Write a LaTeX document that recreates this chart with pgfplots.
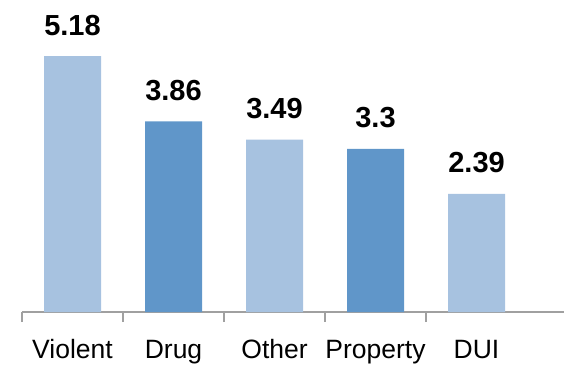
\documentclass[border=0pt]{standalone}
\usepackage{pgfplots}
\pgfplotsset{compat=1.18}
\usepackage{fontspec}
\setmainfont{Liberation Sans}
\definecolor{lightbar}{RGB}{167,194,224}
\definecolor{darkbar}{RGB}{96,150,201}
\definecolor{axisgray}{RGB}{160,160,160}
\begin{document}
\begin{tikzpicture}[x=1pt,y=1pt]
\useasboundingbox (0,0) rectangle (564,364);
\clip (0,0) rectangle (564,364);
\begin{axis}[
  at={(22pt,52pt)}, anchor=south west,
  scale only axis,
  width=542pt, height=312pt,
  xmin=-0.5, xmax=4.866,
  ymin=0, ymax=6.316,
  axis x line=bottom,
  axis y line=none,
  axis line style={axisgray, line width=1.6pt, -},
  xtick={0,1,2,3,4},
  xticklabels={Violent,Drug,Other,Property,DUI},
  major tick length=0pt,
  minor xtick={-0.5,0.5,1.5,2.5,3.5},
  minor tick length=10pt,
  tick align=outside,
  minor tick style={axisgray, line width=1.6pt},
  xticklabel style={font=\fontsize{26.5}{30}\selectfont, anchor=base, yshift=-46pt},
  ybar, bar width=57pt,
  point meta=explicit symbolic,
  nodes near coords,
  every node near coord/.append style={font=\fontsize{29}{32}\selectfont\bfseries, anchor=base, yshift=21pt, inner sep=0pt},
  clip=false,
]
\addplot[draw=none, fill=lightbar, bar shift=0pt] coordinates {(0,5.18) [5.18] (2,3.49) [3.49] (4,2.39) [2.39]};
\addplot[draw=none, fill=darkbar, bar shift=0pt] coordinates {(1,3.86) [3.86] (3,3.3) [3.3]};
\end{axis}
\end{tikzpicture}
\end{document}
